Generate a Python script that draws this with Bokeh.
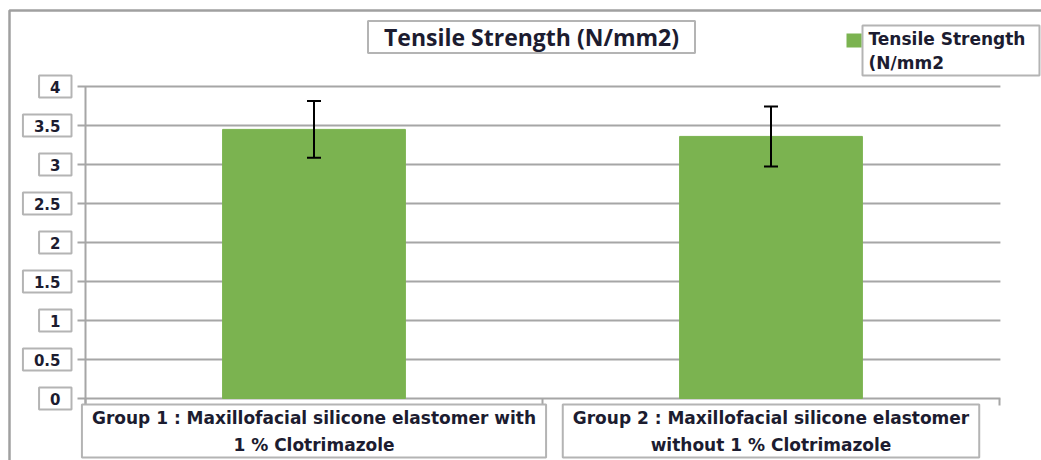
from bokeh.plotting import figure
from bokeh.models import (ColumnDataSource, Whisker, Label, BoxAnnotation,
                          Range1d, TeeHead)
from bokeh.embed import file_html
from bokeh.resources import INLINE

categories = ["Group 1 : Maxillofacial silicone elastomer with\n1 % Clotrimazole",
              "Group 2 : Maxillofacial silicone elastomer\nwithout 1 % Clotrimazole"]
means = [3.45, 3.36]
sds = [0.365, 0.385]
y_ticks = [0, 0.5, 1, 1.5, 2, 2.5, 3, 3.5, 4]
y_tick_labels = ["0", "0.5", "1", "1.5", "2", "2.5", "3", "3.5", "4"]
title_text = "Tensile Strength (N/mm2)"
legend_text = "Tensile Strength\n(N/mm2"

GREEN = "#7bb350"
GRAY = "#a6a6a6"
BOXGRAY = "#b4b4b4"
TXT = "#1c1c30"

# ---- layout (pixels) ----
W, H = 1041, 460
PX_LEFT, PX_RIGHT = 85, 999      # category area
PX_TOP, PX_BOTTOM = 86, 398      # y = 4 .. y = 0
ncat = len(categories)
ymax = y_ticks[-1]
ux = (PX_RIGHT - PX_LEFT) / ncat           # px per x unit
uy = (PX_BOTTOM - PX_TOP) / ymax           # px per y unit
x_start = -PX_LEFT / ux
x_end = ncat + (W - PX_RIGHT) / ux
y_start = -(H - PX_BOTTOM) / uy
y_end = ymax + PX_TOP / uy
tick_x = 8 / ux        # y tick length in data units
tick_y = 7 / uy        # x tick length in data units

xs = [i + 0.5 for i in range(ncat)]
src = ColumnDataSource(dict(
    x=xs, top=means,
    upper=[m + s for m, s in zip(means, sds)],
    lower=[m - s for m, s in zip(means, sds)],
))

p = figure(width=W, height=H, x_range=Range1d(x_start, x_end),
           y_range=Range1d(y_start, y_end), output_backend="svg",
           toolbar_location=None, x_axis_location=None, y_axis_location=None,
           min_border=0)
p.title.visible = False
p.outline_line_color = None
p.grid.visible = False
p.background_fill_color = "white"
p.border_fill_color = "white"

# gridlines + y ticks
p.segment(x0=[-tick_x] * len(y_ticks), x1=[ncat + 0.002] * len(y_ticks),
          y0=y_ticks, y1=y_ticks, line_color=GRAY, line_width=2)
# y axis line
p.segment(x0=[0], x1=[0], y0=[-tick_y], y1=[ymax], line_color=GRAY, line_width=2)
# x category boundary ticks
bounds = list(range(ncat + 1))
p.segment(x0=bounds, x1=bounds, y0=[0] * len(bounds), y1=[-tick_y] * len(bounds),
          line_color=GRAY, line_width=2)

p.vbar(x="x", top="top", width=0.4, bottom=0, source=src,
       fill_color=GREEN, line_color=GREEN)

p.add_layout(Whisker(base="x", upper="upper", lower="lower", source=src,
                     line_color="black", line_width=2, level="overlay",
                     upper_head=TeeHead(size=14, line_width=2, line_color="black"),
                     lower_head=TeeHead(size=14, line_width=2, line_color="black")))

# tick labels in boxes
for v, t in zip(y_ticks, y_tick_labels):
    p.add_layout(Label(x=0, y=v, x_offset=-14, text=t, text_align="right",
                       text_baseline="middle", text_font="DejaVu Sans",
                       text_font_style="bold", text_font_size="15px",
                       text_color=TXT, border_line_color=BOXGRAY,
                       border_line_width=2, background_fill_color="white",
                       padding=dict(left=11, right=11, top=5, bottom=5)))

# category labels in boxes
for xv, c in zip(xs, categories):
    p.add_layout(Label(x=xv, y=0, y_offset=-6, text=c, text_align="center",
                       text_baseline="top", text_font="DejaVu Sans",
                       text_font_style="bold", text_font_size="17px",
                       text_line_height=1.35,
                       text_color=TXT, border_line_color=BOXGRAY,
                       border_line_width=2, background_fill_color="white",
                       padding=dict(left=10, right=10, top=3, bottom=3)))

# title
p.add_layout(Label(x=531, y=H - 36.5, x_units="screen", y_units="screen",
                   text=title_text, text_align="center", text_baseline="middle",
                   text_font="Open Sans", text_font_style="bold",
                   text_font_size="23px", text_color=TXT,
                   border_line_color=BOXGRAY, border_line_width=2,
                   background_fill_color="white",
                   padding=dict(left=16, right=16, top=0, bottom=0)))

# legend
p.add_layout(Label(x=862, y=H - 25, x_units="screen", y_units="screen",
                   text=legend_text, text_align="left", text_baseline="top",
                   text_font="DejaVu Sans", text_font_style="bold",
                   text_font_size="17px", text_color=TXT, text_line_height=1.2,
                   border_line_color=BOXGRAY, border_line_width=2,
                   background_fill_color="white",
                   padding=dict(left=6, right=14, top=3, bottom=3)))
p.add_layout(BoxAnnotation(left=846, right=861, top=H - 33, bottom=H - 47,
                           left_units="screen", right_units="screen",
                           top_units="screen", bottom_units="screen",
                           fill_color=GREEN, fill_alpha=1, line_color=None))

# outer chart border
p.add_layout(BoxAnnotation(left=9, right=W + 50, top=H - 10, bottom=-50,
                           left_units="screen", right_units="screen",
                           top_units="screen", bottom_units="screen",
                           fill_alpha=0, line_color="#a0a0a0", line_width=2.5,
                           line_alpha=1))

open("out.html", "w").write(file_html(p, INLINE))
